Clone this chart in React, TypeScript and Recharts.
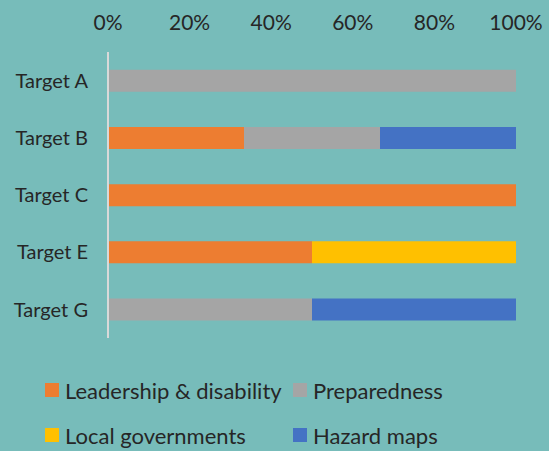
import { BarChart, Bar, XAxis, YAxis, Legend } from "recharts";

const targets = ["Target A", "Target B", "Target C", "Target E", "Target G"];
const leadership = [0, 1, 1, 1, 0];
const preparedness = [1, 1, 0, 0, 1];
const localGov = [0, 0, 0, 1, 0];
const hazardMaps = [0, 1, 0, 0, 1];
const xTicks = [0, 0.2, 0.4, 0.6, 0.8, 1];

const series = [
  { key: "leadership", name: "Leadership & disability", color: "#ED7D31" },
  { key: "preparedness", name: "Preparedness", color: "#A5A5A5" },
  { key: "localGov", name: "Local governments", color: "#FFC000" },
  { key: "hazardMaps", name: "Hazard maps", color: "#4472C4" },
];

// convert counts to shares so the bars run to 100%
const data = targets.map((t, i) => {
  const total = leadership[i] + preparedness[i] + localGov[i] + hazardMaps[i];
  return {
    target: t,
    leadership: leadership[i] / total,
    preparedness: preparedness[i] / total,
    localGov: localGov[i] / total,
    hazardMaps: hazardMaps[i] / total,
  };
});

const font = "Lato, 'Open Sans', sans-serif";
const textColor = "#262626";

function ChartLegend() {
  return (
    <div
      style={{
        display: "grid",
        gridTemplateColumns: "248px 220px",
        rowGap: 19,
        paddingLeft: 45,
        fontFamily: font,
        fontSize: 22,
        color: textColor,
      }}
    >
      {series.map((s) => (
        <div key={s.key} style={{ display: "flex", alignItems: "center", height: 26 }}>
          <span
            style={{
              display: "inline-block",
              width: 14,
              height: 14,
              background: s.color,
              marginRight: 6,
            }}
          />
          <span style={{ whiteSpace: "nowrap" }}>{s.name}</span>
        </div>
      ))}
    </div>
  );
}

export default function App() {
  return (
    <div style={{ position: "absolute", left: 0, top: 0, width: 549, height: 451, background: "#77BCBA" }}>
      <BarChart
        width={549}
        height={451}
        data={data}
        layout="vertical"
        barCategoryGap="31%"
        margin={{ top: 22, right: 33, left: 0, bottom: 113 }}
      >
        <XAxis
          type="number"
          orientation="top"
          domain={[0, 1]}
          ticks={xTicks}
          tickFormatter={(v: number) => `${Math.round(v * 100)}%`}
          axisLine={false}
          tickLine={false}
          tickSize={0}
          tickMargin={22}
          height={30}
          tick={{ fill: textColor, fontSize: 21, fontFamily: font }}
        />
        <YAxis
          type="category"
          dataKey="target"
          width={108}
          axisLine={{ stroke: "#D9D9D9", strokeWidth: 2 }}
          tickLine={false}
          tickSize={0}
          tickMargin={20}
          tick={{ fill: textColor, fontSize: 20, fontFamily: font }}
        />
        {series.map((s) => (
          <Bar
            key={s.key}
            dataKey={s.key}
            name={s.name}
            stackId="a"
            fill={s.color}
            isAnimationActive={false}
          />
        ))}
        <Legend
          verticalAlign="middle"
          align="center"
          content={() => <ChartLegend />}
          wrapperStyle={{ top: 377, left: 0, width: 549 }}
        />
      </BarChart>
    </div>
  );
}
